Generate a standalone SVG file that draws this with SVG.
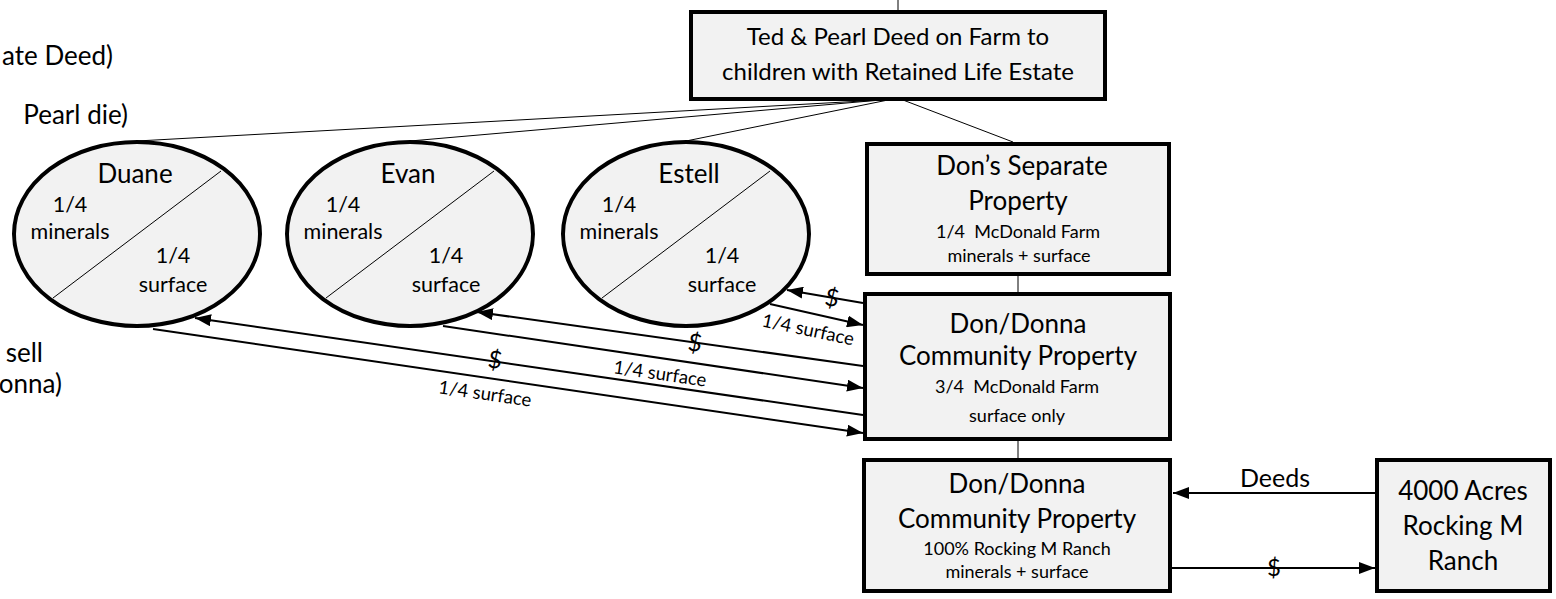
<svg xmlns="http://www.w3.org/2000/svg" width="1556" height="599" viewBox="0 0 1556 599">
<defs>
<marker id="ah" markerUnits="userSpaceOnUse" markerWidth="17" markerHeight="12" refX="16" refY="6" orient="auto">
<path d="M0,0 L16,6 L0,12 z" fill="#000"/>
</marker>
<style>
text{font-family:Lato,"Liberation Sans",sans-serif;fill:#000;text-anchor:middle}
.box{fill:#f2f2f2;stroke:#000;stroke-width:4}
.ell{fill:#f2f2f2;stroke:#000;stroke-width:4}
.thin{stroke:#000;stroke-width:1;fill:none}
.arr{stroke:#000;stroke-width:2;fill:none}
.big{font-size:26px}
.mid{font-size:24px}
.frac{font-size:21.5px}
.sm{font-size:18px}
.lbl{font-size:18.5px}
.dol{font-size:24px}
.side{font-size:26px;text-anchor:end}
</style>
</defs>
<g id="side-notes">
<text class="side" x="113" y="65">ate Deed)</text>
<text class="side" x="128" y="124">Pearl die)</text>
<text class="side" x="43" y="362">sell</text>
<text class="side" x="62" y="393">onna)</text>
</g>
<g id="connectors">
<line class="thin" x1="898" y1="0" x2="898" y2="10"/>
<line class="thin" x1="881" y1="100" x2="137" y2="141"/>
<line class="thin" x1="881" y1="100" x2="410" y2="141"/>
<line class="thin" x1="888" y1="100" x2="686" y2="141"/>
<line class="thin" x1="903" y1="100" x2="1013" y2="142"/>
<line class="thin" x1="1018" y1="276" x2="1018" y2="293"/>
<line class="thin" x1="1018" y1="440" x2="1018" y2="458"/>
<line class="arr" x1="863" y1="303" x2="787" y2="290" marker-end="url(#ah)"/>
<line class="arr" x1="770" y1="304" x2="863" y2="325" marker-end="url(#ah)"/>
<line class="arr" x1="863" y1="366" x2="477" y2="312" marker-end="url(#ah)"/>
<line class="arr" x1="443" y1="326" x2="863" y2="388" marker-end="url(#ah)"/>
<line class="arr" x1="863" y1="415" x2="195" y2="318" marker-end="url(#ah)"/>
<line class="arr" x1="153" y1="329" x2="863" y2="433" marker-end="url(#ah)"/>
<line class="arr" x1="1375" y1="493" x2="1173" y2="493" marker-end="url(#ah)"/>
<line class="arr" x1="1172" y1="568" x2="1375" y2="568" marker-end="url(#ah)"/>
<text class="dol" transform="translate(832,298) rotate(10)" y="8">$</text>
<text class="lbl" transform="translate(808,330) rotate(12)" y="6">1/4 surface</text>
<text class="dol" transform="translate(695,343) rotate(8)" y="8">$</text>
<text class="lbl" transform="translate(660,374) rotate(8.3)" y="6">1/4 surface</text>
<text class="dol" transform="translate(495,360) rotate(8.3)" y="8">$</text>
<text class="lbl" transform="translate(485,394) rotate(8.3)" y="6">1/4 surface</text>
<text class="mid" x="1275" y="487" style="font-size:25px">Deeds</text>
<text class="dol" x="1274" y="576">$</text>
</g>
<g id="node-deed">
<rect class="box" x="691" y="12" width="414" height="87"/>
<text class="mid" x="898" y="45">Ted &amp; Pearl Deed on Farm to</text>
<text class="mid" x="898" y="80">children with Retained Life Estate</text>
</g>
<g id="node-duane">
<ellipse class="ell" cx="137" cy="234" rx="123" ry="92"/>
<line class="thin" x1="53" y1="298" x2="221" y2="171"/>
<text class="big" x="135" y="183">Duane</text>
<text class="frac" x="70" y="212">1/4</text>
<text class="frac" x="70" y="239">minerals</text>
<text class="frac" x="173" y="263">1/4</text>
<text class="frac" x="173" y="292">surface</text>
</g>
<g id="node-evan">
<ellipse class="ell" cx="410" cy="234" rx="123" ry="92"/>
<line class="thin" x1="326" y1="298" x2="494" y2="171"/>
<text class="big" x="408" y="183">Evan</text>
<text class="frac" x="343" y="212">1/4</text>
<text class="frac" x="343" y="239">minerals</text>
<text class="frac" x="446" y="263">1/4</text>
<text class="frac" x="446" y="292">surface</text>
</g>
<g id="node-estell">
<ellipse class="ell" cx="686" cy="234" rx="123" ry="92"/>
<line class="thin" x1="602" y1="298" x2="770" y2="171"/>
<text class="big" x="689" y="183">Estell</text>
<text class="frac" x="619" y="212">1/4</text>
<text class="frac" x="619" y="239">minerals</text>
<text class="frac" x="722" y="263">1/4</text>
<text class="frac" x="722" y="292">surface</text>
</g>
<g id="node-separate">
<rect class="box" x="867" y="144" width="302" height="130"/>
<text class="big" x="1022" y="175">Don’s Separate</text>
<text class="big" x="1018" y="210">Property</text>
<text class="sm" x="1018" y="238" xml:space="preserve">1/4  McDonald Farm</text>
<text class="sm" x="1019" y="262">minerals + surface</text>
</g>
<g id="node-community">
<rect class="box" x="865" y="294" width="305" height="145"/>
<text class="big" x="1018" y="333">Don/Donna</text>
<text class="big" x="1018" y="365">Community Property</text>
<text class="sm" x="1017" y="393" xml:space="preserve">3/4  McDonald Farm</text>
<text class="sm" x="1017" y="422">surface only</text>
</g>
<g id="node-ranch-cp">
<rect class="box" x="864" y="460" width="306" height="131"/>
<text class="big" x="1017" y="493">Don/Donna</text>
<text class="big" x="1017" y="528">Community Property</text>
<text class="sm" x="1017" y="555">100% Rocking M Ranch</text>
<text class="sm" x="1017" y="578">minerals + surface</text>
</g>
<g id="node-ranch">
<rect class="box" x="1377" y="460" width="173" height="131"/>
<text class="big" x="1463" y="500">4000 Acres</text>
<text class="big" x="1463" y="535">Rocking M</text>
<text class="big" x="1463" y="570">Ranch</text>
</g>
</svg>
